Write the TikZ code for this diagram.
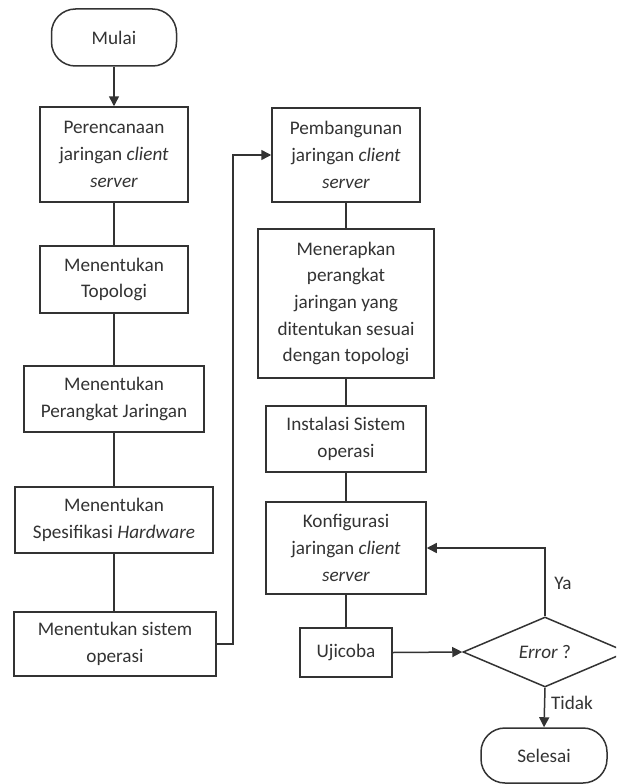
\documentclass[tikz,border=0pt]{standalone}
\usepackage{fontspec}
\setmainfont{Carlito}
\usetikzlibrary{shapes.geometric,arrows.meta}
\definecolor{ink}{HTML}{333333}
\tikzset{
  stepbox/.style={draw=ink, line width=1.5pt, rectangle, align=center, inner sep=0pt,
    text=ink, font=\fontsize{19.2pt}{26.7pt}\selectfont},
  termbox/.style={stepbox, rounded corners=24pt},
  decision/.style={draw=ink, line width=1.5pt, diamond, inner sep=0pt, text=ink,
    font=\fontsize{19.2pt}{26.7pt}\selectfont},
  link/.style={draw=ink, line width=1.5pt},
  flow/.style={link, -{Triangle[length=10pt,width=10pt]}},
  lbl/.style={text=ink, inner sep=0pt, font=\fontsize{19.2pt}{26.7pt}\selectfont}
}
\begin{document}
\begin{tikzpicture}[x=1pt,y=-1pt]
\useasboundingbox (0,0) rectangle (616,784);
\clip (0,0) rectangle (616,784);
\fill[white] (0,0) rectangle (616,784);

% left column
\node[termbox, minimum width=125pt, minimum height=57pt] (mulai) at (114,37.5) {Mulai};
\node[stepbox, minimum width=148pt, minimum height=95pt] (p1) at (114,154.5)
  {Perencanaan\\jaringan \textit{client}\\\textit{server}};
\node[stepbox, minimum width=148pt, minimum height=67pt] (p2) at (114,279.5)
  {Menentukan\\Topologi};
\node[stepbox, minimum width=180pt, minimum height=66pt] (p3) at (114,399)
  {Menentukan\\Perangkat Jaringan};
\node[stepbox, minimum width=198pt, minimum height=66pt] (p4) at (114,520)
  {Menentukan\\Spesifikasi \textit{Hardware}};
\node[stepbox, minimum width=202pt, minimum height=64pt] (p5) at (115,644)
  {Menentukan sistem\\operasi};

% right column
\node[stepbox, minimum width=148pt, minimum height=94pt] (q1) at (346,155)
  {Pembangunan\\jaringan \textit{client}\\\textit{server}};
\node[stepbox, minimum width=176pt, minimum height=149pt] (q2) at (346,303.5)
  {Menerapkan\\perangkat\\jaringan yang\\ditentukan sesuai\\dengan topologi};
\node[stepbox, minimum width=160pt, minimum height=66pt] (q3) at (346,439)
  {Instalasi Sistem\\operasi};
\node[stepbox, minimum width=160pt, minimum height=92pt] (q4) at (346,548)
  {Konfigurasi\\jaringan \textit{client}\\\textit{server}};
\node[stepbox, minimum width=92pt, minimum height=49pt] (q5) at (346,652.5)
  {Ujicoba};
\node[decision, minimum width=164pt, minimum height=70pt] (err) at (545,652)
  {\textit{Error} ?};
\node[termbox, minimum width=126pt, minimum height=55pt] (selesai) at (544,755.5)
  {Selesai};

\coordinate (bend) at (233,644);

% connectors
\draw[flow] (mulai) -- (p1);
\draw[link] (p1) -- (p2);
\draw[link] (p2) -- (p3);
\draw[link] (p3) -- (p4);
\draw[link] (p4.south) -- (p5.north -| p4.south);
\draw[flow] (p5.east) -- (bend) |- (q1.west);
\draw[link] (q1) -- (q2);
\draw[link] (q2) -- (q3);
\draw[link] (q3) -- (q4);
\draw[link] (q4) -- (q5);
\draw[flow] (q5.east) -- (err.west);
\draw[flow] (err.north) |- (q4.east);
\draw[flow] (err.south) -- (selesai.north);

\node[lbl] (ya) at (563,583) {Ya};
\node[lbl] (tidak) at (572,703) {Tidak};
\end{tikzpicture}
\end{document}
